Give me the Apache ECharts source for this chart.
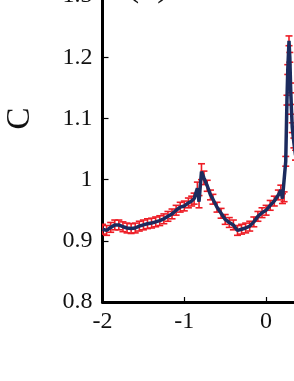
<!DOCTYPE html>
<html>
<head>
<meta charset="utf-8">
<script src="https://cdn.jsdelivr.net/npm/echarts@6/dist/echarts.min.js"></script>
<style>html,body{margin:0;padding:0;background:#fff}#c{width:294px;height:381px}</style>
</head>
<body>
<div id="c"></div>
<script>
var xs = [-2.00,-1.95,-1.90,-1.85,-1.80,-1.75,-1.70,-1.65,-1.60,-1.55,-1.50,-1.45,-1.40,-1.35,-1.30,-1.25,-1.20,-1.15,-1.10,-1.05,-1.00,-0.95,-0.91,-0.88,-0.84,-0.82,-0.79,-0.76,-0.72,-0.68,-0.65,-0.60,-0.55,-0.50,-0.45,-0.40,-0.35,-0.30,-0.25,-0.20,-0.15,-0.10,-0.05,0.00,0.05,0.10,0.15,0.18,0.20,0.22,0.24,0.255,0.265,0.28,0.29,0.30,0.31,0.32,0.34,0.36];
var ys = [0.919,0.917,0.922,0.926,0.926,0.923,0.921,0.920,0.921,0.924,0.926,0.928,0.929,0.931,0.933,0.936,0.940,0.944,0.950,0.955,0.957,0.962,0.965,0.969,0.986,0.964,1.013,1.003,0.990,0.975,0.968,0.955,0.945,0.935,0.930,0.926,0.917,0.919,0.921,0.924,0.931,0.940,0.946,0.950,0.958,0.965,0.975,0.983,0.969,0.972,1.030,1.130,1.180,1.227,1.200,1.150,1.115,1.085,1.060,1.040];
var errs = [0.008,0.008,0.008,0.008,0.008,0.008,0.008,0.008,0.008,0.008,0.008,0.008,0.008,0.008,0.008,0.008,0.008,0.008,0.008,0.008,0.008,0.008,0.008,0.009,0.010,0.010,0.013,0.011,0.009,0.008,0.008,0.008,0.008,0.008,0.008,0.008,0.008,0.008,0.008,0.008,0.008,0.008,0.008,0.008,0.008,0.008,0.008,0.008,0.008,0.008,0.008,0.008,0.008,0.008,0.008,0.008,0.008,0.008,0.008,0.008];
var yTicks = [0.8, 0.9, 1, 1.1, 1.2, 1.3, 1.4];
var xTicks = [-2, -1, 0, 1];

var lineData = xs.map(function(x,i){return [x, ys[i]];});
var errData = xs.map(function(x,i){return [x, ys[i]-errs[i], ys[i]+errs[i]];});

var FONT = '"Liberation Serif", "Times New Roman", serif';
var chart = echarts.init(document.getElementById('c'), null, {renderer:'canvas'});
chart.setOption({
  animation:false,
  grid:{left:102.5, top:-65, width:245.4, height:367, outerBoundsMode:'none', containLabel:false},
  xAxis:{type:'value', min:-2, max:1, interval:1,
    axisLine:{show:true, onZero:false, lineStyle:{color:'#000', width:3}},
    axisTick:{show:true, inside:true, length:5, lineStyle:{color:'#000', width:1.2}},
    splitLine:{show:false},
    axisLabel:{fontFamily:FONT, fontSize:24, color:'#111', margin:8,
      formatter:function(v){return String(v);}}
  },
  yAxis:{type:'value', min:0.8, max:1.4, interval:0.1,
    name:'C', nameLocation:'middle', nameGap:66, nameRotate:90,
    nameTextStyle:{fontFamily:FONT, fontSize:33, color:'#111'},
    axisLine:{show:true, onZero:false, lineStyle:{color:'#000', width:3}},
    axisTick:{show:true, inside:true, length:6, lineStyle:{color:'#000', width:1.2}},
    splitLine:{show:false},
    axisLabel:{fontFamily:FONT, fontSize:24, color:'#111', margin:10,
      formatter:function(v){var r=Math.round(v*10)/10; return (r===1)?'1':r.toFixed(1);}}
  },
  graphic:[{type:'text', left:126, top:-36, style:{text:'(a)', font:'40px "Liberation Serif", serif', fill:'#111'}}],
  series:[
    {type:'custom', data:errData, z:2, clip:true,
      renderItem:function(params, api){
        var x = api.value(0);
        var lo = api.coord([x, api.value(1)]);
        var hi = api.coord([x, api.value(2)]);
        var w = 3.5;
        var st = {stroke:'#ee1c25', lineWidth:1.6, fill:null};
        return {type:'group', children:[
          {type:'line', shape:{x1:lo[0],y1:lo[1],x2:hi[0],y2:hi[1]}, style:st},
          {type:'line', shape:{x1:lo[0]-w,y1:lo[1],x2:lo[0]+w,y2:lo[1]}, style:st},
          {type:'line', shape:{x1:hi[0]-w,y1:hi[1],x2:hi[0]+w,y2:hi[1]}, style:st}
        ]};
      }
    },
    {type:'line', data:lineData, z:3, symbol:'none', smooth:false,
      lineStyle:{color:'#1c2b5e', width:3.5}}
  ]
});
</script>
</body>
</html>
